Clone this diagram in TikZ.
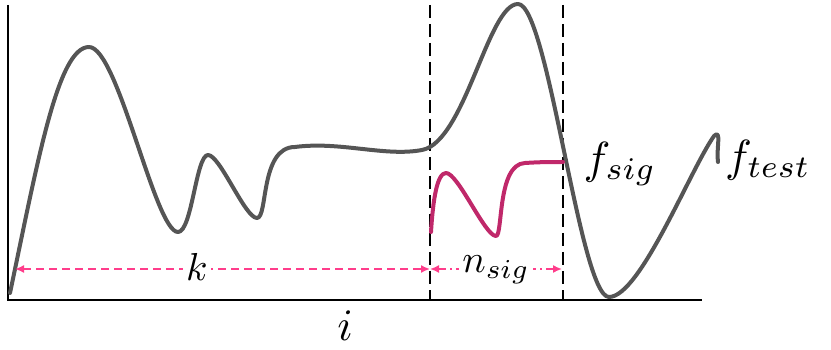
\documentclass[tikz,border=0pt]{standalone}
\usetikzlibrary{arrows.meta}
\definecolor{curvegray}{HTML}{555555}
\definecolor{sigred}{HTML}{C0286A}
\definecolor{arrpink}{HTML}{FF3D8B}
\begin{document}
\begin{tikzpicture}[x=1pt,y=-1pt,
  axis/.style={line width=1.8pt,black},
  guide/.style={line width=1.6pt,black,dash pattern=on 13pt off 6pt},
  testcurve/.style={line width=4pt,curvegray,line cap=round,line join=round},
  sigcurve/.style={line width=4pt,sigred,line cap=round,line join=round},
  span/.style={line width=1.6pt,arrpink,{Latex[length=9pt,width=8pt]}-{Latex[length=9pt,width=8pt]}},
  lbl/.style={scale=4.5,inner sep=0.3pt},
  gaplbl/.style={scale=3.9,fill=white,inner sep=0.8pt}]
\useasboundingbox (0,0) rectangle (831,350);
% axes
\coordinate (o) at (8,300);
\coordinate (ytop) at (8,5);
\coordinate (xend) at (702,300);
\draw[axis] (ytop) -- (o) -- (xend);
% guides
\coordinate (g1t) at (430,5);
\coordinate (g1b) at (430,300);
\coordinate (g2t) at (563,5);
\coordinate (g2b) at (563,300);
\draw[guide] (g1t) -- (g1b);
\draw[guide] (g2t) -- (g2b);
% test curve
\draw[testcurve] (10,293)
  .. controls (38,160) and (58,47) .. (89,47)
  .. controls (118,47) and (155,232) .. (178,232)
  .. controls (192,232) and (196,155) .. (208,155)
  .. controls (220,155) and (245,218) .. (257,218)
  .. controls (268,218) and (260,147) .. (295,147)
  .. controls (340,141) and (385,157) .. (422,150)
  .. controls (465,142) and (488,4) .. (518,4)
  .. controls (548,4) and (580,297) .. (609,297)
  .. controls (640,297) and (690,170) .. (714,136)
  .. controls (722,128) and (716,150) .. (718,162);
% signal curve
\draw[sigcurve] (431,232)
  .. controls (433,200) and (437,173) .. (446,173)
  .. controls (458,173) and (485,236) .. (496,236)
  .. controls (503,236) and (497,164) .. (525,163)
  .. controls (540,162) and (550,162) .. (563,162);
% spans
\coordinate (k1) at (15,269);
\coordinate (k2) at (430,269);
\coordinate (n1) at (430,269);
\coordinate (n2) at (562,269);
\draw[span,dash pattern=on 8pt off 5pt] (k1) -- (k2);
\draw[span,dash pattern=on 8pt off 4pt on 2pt off 4pt] (n1) -- (n2);
\node[gaplbl] (k) at (197,267) {$k$};
\node[gaplbl] (nsig) at (496,270) {$n_{sig}$};
% labels
\node[lbl] (fsig) at (620,164) {$f_{sig}$};
\node[lbl] (ftest) at (768,160) {$f_{test}$};
\node[lbl] (i) at (345,326) {$i$};
\end{tikzpicture}
\end{document}
